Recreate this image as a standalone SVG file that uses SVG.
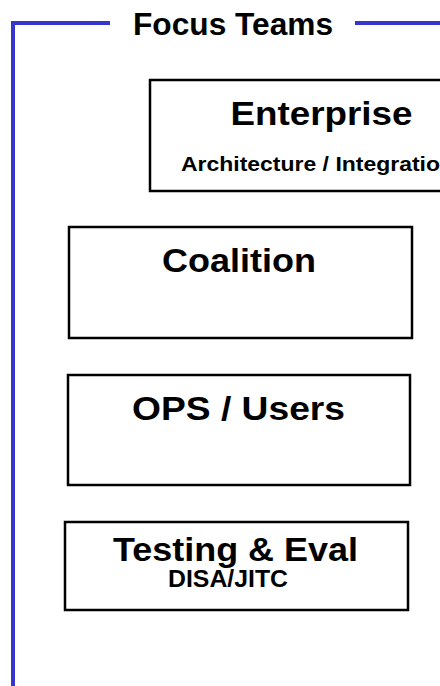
<svg xmlns="http://www.w3.org/2000/svg" width="440" height="686" viewBox="0 0 440 686">
  <style>
    .frame { fill: none; stroke: #3636cc; stroke-width: 4; }
    .box { fill: #ffffff; stroke: #000000; stroke-width: 2.5; }
    .t { font-family: "Liberation Sans", Arial, sans-serif; font-weight: bold; fill: #000000; }
    .big { font-size: 34px; text-anchor: middle; }
  </style>
  <rect width="440" height="686" fill="#ffffff"/>

  <!-- bracket frame with title -->
  <g id="frame">
    <path class="frame" d="M13 686 V23 H110"/>
    <path class="frame" d="M355 23 H440"/>
    <text class="t" x="233" y="34.5" font-size="31" text-anchor="middle" textLength="200" lengthAdjust="spacingAndGlyphs">Focus Teams</text>
  </g>

  <g id="connectors"></g>

  <g id="enterprise">
    <rect class="box" x="150" y="80" width="310" height="111"/>
    <text class="t big" x="321.5" y="125" textLength="182" lengthAdjust="spacingAndGlyphs">Enterprise</text>
    <text class="t" x="181" y="171" font-size="20.5" textLength="273" lengthAdjust="spacingAndGlyphs">Architecture / Integration</text>
  </g>

  <g id="coalition">
    <rect class="box" x="69" y="227" width="343" height="111"/>
    <text class="t big" x="239" y="272" textLength="154" lengthAdjust="spacingAndGlyphs">Coalition</text>
  </g>

  <g id="ops-users">
    <rect class="box" x="68" y="375" width="342" height="110"/>
    <text class="t big" x="238.5" y="420" textLength="213" lengthAdjust="spacingAndGlyphs">OPS / Users</text>
  </g>

  <g id="testing-eval">
    <rect class="box" x="65" y="522" width="343" height="88"/>
    <text class="t big" x="235.5" y="561" textLength="245" lengthAdjust="spacingAndGlyphs">Testing &amp; Eval</text>
    <text class="t" x="228" y="587" font-size="24" text-anchor="middle" textLength="120" lengthAdjust="spacingAndGlyphs">DISA/JITC</text>
  </g>
</svg>
